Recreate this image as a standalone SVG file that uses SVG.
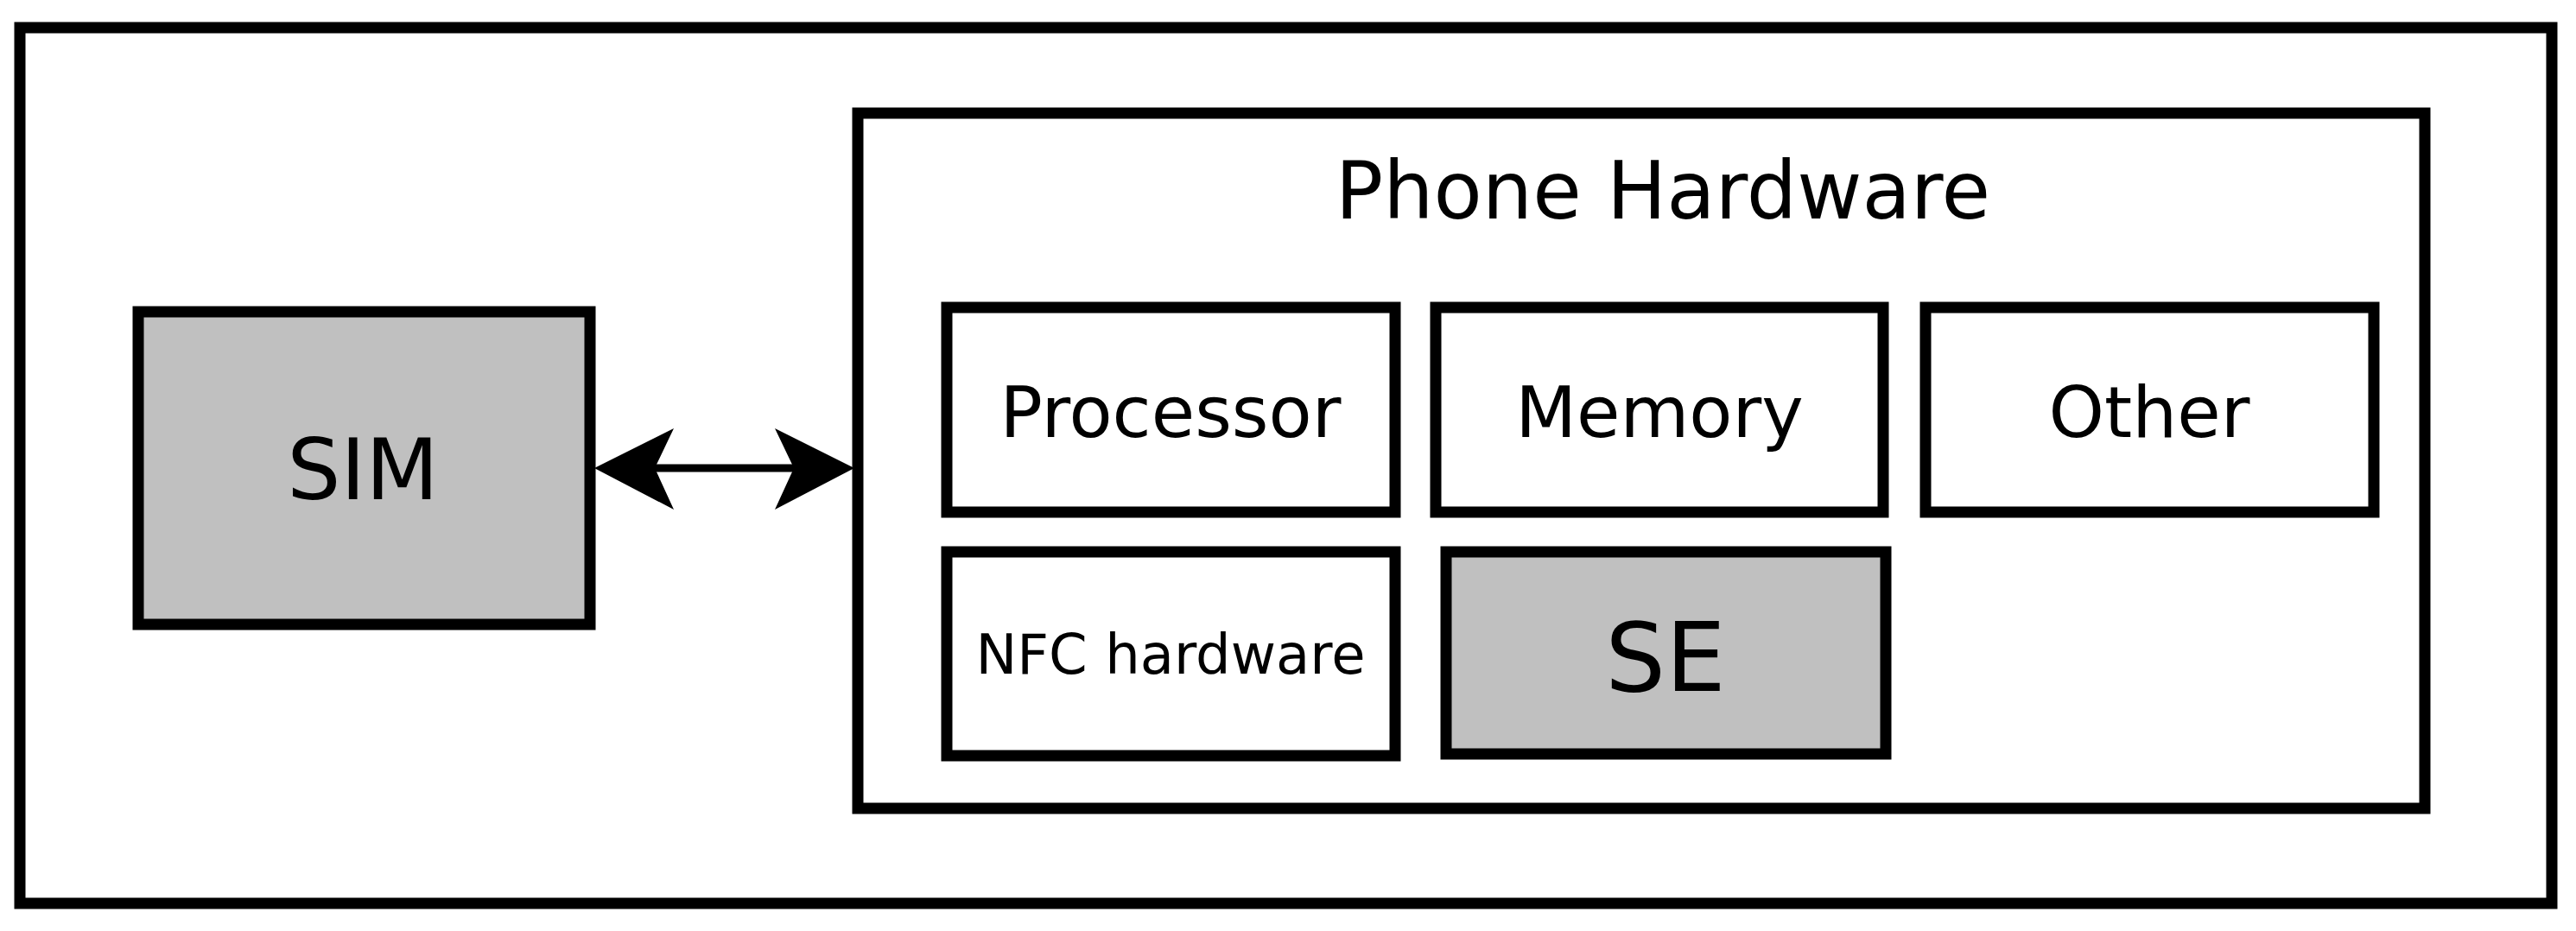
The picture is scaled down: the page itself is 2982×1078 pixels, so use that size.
<svg xmlns="http://www.w3.org/2000/svg" width="2982" height="1078" viewBox="0 0 2982 1078">
<style>
.b{fill:#fff;stroke:#000;stroke-width:13}
.g{fill:#c0c0c0;stroke:#000;stroke-width:13}
text{font-family:"DejaVu Sans",sans-serif;text-anchor:middle;fill:#000}
</style>
<defs>
<marker id="ah" markerWidth="10" markerHeight="10" refX="9" refY="5" orient="auto-start-reverse" markerUnits="userSpaceOnUse" viewBox="0 0 10 10" style="overflow:visible">
</marker>
</defs>
<rect x="0" y="0" width="2982" height="1078" fill="#fff"/>
<g id="outer"><rect class="b" x="23" y="32" width="2931" height="1014"/></g>
<g id="phone"><rect class="b" x="993" y="131" width="1814" height="805"/>
<text x="1925" y="253" font-size="92">Phone Hardware</text></g>
<g id="sim"><rect class="g" x="160" y="361" width="523" height="362"/>
<text x="420" y="578" font-size="98">SIM</text></g>
<g id="processor"><rect class="b" x="1096" y="356" width="519" height="237"/>
<text x="1355" y="506" font-size="82">Processor</text></g>
<g id="memory"><rect class="b" x="1662" y="356" width="518" height="237"/>
<text x="1921" y="506" font-size="82">Memory</text></g>
<g id="other"><rect class="b" x="2229" y="356" width="519" height="237"/>
<text x="2488" y="506" font-size="82">Other</text></g>
<g id="nfc"><rect class="b" x="1096" y="639" width="519" height="236"/>
<text x="1355" y="780" font-size="64">NFC hardware</text></g>
<g id="se"><rect class="g" x="1674" y="639" width="509" height="234"/>
<text x="1928" y="800" font-size="110">SE</text></g>
<g id="connectors">
<line x1="740" y1="542" x2="930" y2="542" stroke="#000" stroke-width="9"/>
<path d="M688,542 L780,496 L758,542 L780,590 Z" fill="#000"/>
<path d="M989,542 L897,496 L919,542 L897,590 Z" fill="#000"/>
</g>
</svg>
